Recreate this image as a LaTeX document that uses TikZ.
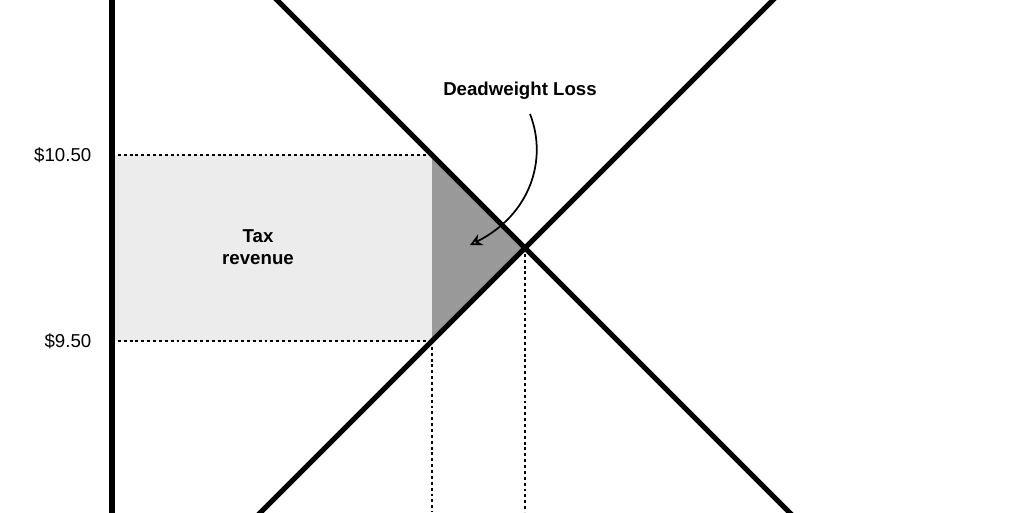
\documentclass[tikz,border=0pt]{standalone}
\usepackage{fontspec}
\setmainfont{Liberation Sans}
\usetikzlibrary{arrows.meta}
\begin{document}
\begin{tikzpicture}[x=0.75pt,y=-0.75pt,
  curve/.style={line width=3.8pt},
  dot/.style={line width=1.9pt,dash pattern=on 2.2pt off 2.2pt},
  lbl/.style={font=\fontsize{14}{16}\selectfont},
  blbl/.style={font=\fontsize{14}{16}\selectfont\bfseries,align=center}]
\useasboundingbox (0,0) rectangle (1024,512);
\fill[black!7.5] (112,155) rectangle (432,341);
\fill[black!40] (432,155) -- (525,248) -- (432,341) -- cycle;
\draw[dot] (112,155) -- (432,155);
\draw[dot] (112,341) -- (432,341);
\draw[dot] (432,341) -- (432,512);
\draw[dot] (525,248) -- (525,512);
\draw[curve] (112,-5) -- (112,517);
\draw[curve] (272,-5) -- (794,517);
\draw[curve] (778,-5) -- (256,517);
\node[lbl,anchor=east] (p1) at (96,155) {\$10.50};
\node[lbl,anchor=east] (p2) at (96,341) {\$9.50};
\node[blbl] (tax) at (258,247) {Tax\\revenue};
\node[blbl] (dwl) at (520,91) {Deadweight Loss};
\coordinate (tip) at (470,245);
\draw[line width=1.3pt,-{Stealth[open,length=9pt,width=9pt]}] (530,114) .. controls (548,160) and (530,215) .. (tip);
\end{tikzpicture}
\end{document}
